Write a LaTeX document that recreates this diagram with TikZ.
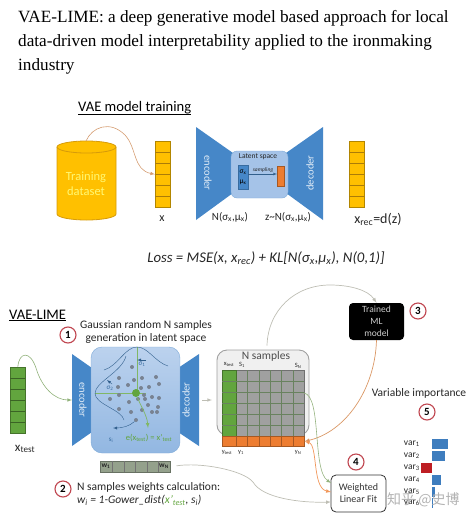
\documentclass[tikz,border=0pt]{standalone}
\usepackage{fontspec}
\setmainfont{Carlito}
\newfontfamily\titlefont{Liberation Serif}
\newfontfamily\cjkfont{Noto Sans CJK SC}
\definecolor{dbyellow}{RGB}{255, 192, 0}
\definecolor{dbedge}{RGB}{214, 155, 10}
\definecolor{netblue}{RGB}{70, 135, 200}
\definecolor{latentblue}{RGB}{165, 195, 232}
\definecolor{sampleorange}{RGB}{237, 125, 49}
\definecolor{testgreen}{RGB}{98, 165, 62}
\definecolor{gridgrey}{RGB}{160, 160, 160}
\definecolor{gridline}{RGB}{105, 130, 95}
\definecolor{dotgrey}{RGB}{120, 130, 145}
\definecolor{ringred}{RGB}{192, 70, 80}
\definecolor{linkgrey}{RGB}{190, 190, 180}
\definecolor{barblue}{RGB}{62, 125, 190}
\definecolor{barred}{RGB}{190, 30, 35}
\tikzset{
  stack/.style={draw=#1!70!black, line width=0.6pt, fill=#1, inner sep=0pt, anchor=north west},
  ring/.style={circle, draw=ringred, line width=1.1pt, fill=white, minimum size=16pt, inner sep=0pt, font=\fontsize{11}{11}\selectfont\bfseries},
  txt/.style={font=\fontsize{11.5}{13}\selectfont, text=black!85, align=center, inner sep=0pt},
  small/.style={font=\fontsize{9}{10}\selectfont, text=black!85, inner sep=0pt},
  link/.style={draw=linkgrey, line width=0.7pt},
  net/.style={font=\fontsize{10.5}{11}\selectfont, text=white!85!netblue, inner sep=0pt},
  sdot/.style={circle, fill=dotgrey, inner sep=0pt, minimum size=4pt},
  bar/.style={inner sep=0pt, anchor=north west}
}

\begin{document}
\begin{tikzpicture}[>=latex, x=1pt, y=-1pt]
    \useasboundingbox (0, 0) rectangle (474, 520);

    % Title
    \node[anchor=west, inner sep=0pt, align=left, font=\fontsize{17.2}{24}\selectfont\titlefont] (title) at (18, 42)
        {VAE-LIME: a deep generative model based approach for local\\
         data-driven model interpretability applied to the ironmaking\\
         industry};

    % VAE model training
    \node[anchor=west, inner sep=0pt, font=\fontsize{14.6}{15}\selectfont] (trainhead) at (78, 108) {VAE model training};
    \draw[line width=0.7pt] (trainhead.south west) -- (trainhead.south east);

    % Training dataset
    \draw[draw=dbedge, line width=0.8pt, fill=dbyellow] (57, 147) -- (57, 214)
        arc[start angle=180, end angle=360, x radius=29.5, y radius=-6] -- (116, 147)
        arc[start angle=0, end angle=180, x radius=29.5, y radius=-6] -- cycle;
    \draw[draw=dbedge, line width=0.8pt] (57, 147) arc[start angle=180, end angle=360, x radius=29.5, y radius=-6];
    \node[font=\fontsize{12.5}{15}\selectfont, text=yellow!55!white, align=center, inner sep=0pt] (db) at (86, 184) {Training\\dataset};
    \coordinate (dbtop) at (86, 141);

    % columns x and x_rec
    \node[stack=dbyellow, minimum width=15pt, minimum height=66pt] (xcol) at (155, 141) {};
    \node[stack=dbyellow, minimum width=15pt, minimum height=66pt] (xrec) at (349, 141) {};
    \foreach \yy in {152, 163, 174, 185, 196} {
        \draw[dbedge!80!black, line width=0.5pt] (155, \yy) -- (170, \yy);
        \draw[dbedge!80!black, line width=0.5pt] (349, \yy) -- (364, \yy);
    }
    \draw[->, draw=sampleorange!50!linkgrey, line width=0.6pt] (dbtop) .. controls (92, 127) and (110, 120) .. (125, 135)
        .. controls (137, 148) and (133, 170) .. (xcol.west);
    \node[small, font=\fontsize{12}{14}\selectfont] (xlabel) at (162, 219) {x};
    \node[small, font=\fontsize{14}{14}\selectfont] (xreclabel) at (378, 219) {x\textsubscript{rec}=d(z)};

    % encoder, latent space, decoder
    \fill[netblue] (196, 127) -- (233, 153) -- (233, 193) -- (196, 220) -- cycle;
    \fill[netblue] (323, 127) -- (286, 153) -- (286, 193) -- (323, 220) -- cycle;
    \node[net, rotate=-90] (enc) at (208, 173) {encoder};
    \node[net, rotate=90] (dec) at (310, 173) {decoder};
    \node[draw=netblue!70, fill=latentblue, rounded corners=6pt, minimum width=57pt, minimum height=47pt, inner sep=0pt] (latent) at (259.5, 174.5) {};
    \node[small, font=\fontsize{7.5}{8}\selectfont] (latentlabel) at (258, 157) {Latent space};
    \node[draw=netblue!80!black, fill=netblue, minimum width=10pt, minimum height=24pt, inner sep=0pt, align=center,
          font=\fontsize{7.5}{10}\selectfont] (sigmamu) at (243, 177) {σ\textsubscript{x}\\μ\textsubscript{x}};
    \node[stack=sampleorange, minimum width=7pt, minimum height=20pt] (zbox) at (277, 166) {};
    \node[small, font=\fontsize{5.5}{6}\selectfont\itshape] (samplinglabel) at (263, 170) {sampling};
    \draw[->, netblue!70!black, line width=0.3pt] (sigmamu.east |- 0, 174) -- (zbox.west |- 0, 174);
    \node[small, font=\fontsize{11}{12}\selectfont] (nlabel) at (230, 217) {N(σ\textsubscript{x},μ\textsubscript{x})};
    \node[small, font=\fontsize{11}{12}\selectfont] (zlabel) at (288, 217) {z\textasciitilde N(σ\textsubscript{x},μ\textsubscript{x})};

    % Loss
    \node[inner sep=0pt, font=\fontsize{14.8}{15}\selectfont\itshape, text=black!85] (loss) at (266, 258)
        {Loss = MSE(x, x\textsubscript{rec}) + KL[N(σ\textsubscript{x},μ\textsubscript{x}), N(0,1)]};

    % VAE-LIME
    \node[anchor=west, inner sep=0pt, font=\fontsize{14.6}{15}\selectfont] (limehead) at (9, 315) {VAE-LIME};
    \draw[line width=0.7pt] (limehead.south west) -- (limehead.south east);
    \node[ring] (one) at (68, 335) {1};
    \node[txt] (gausslabel) at (146, 331.5) {Gaussian random N samples\\generation in latent space};

    % x_test column
    \node[stack=testgreen, minimum width=15pt, minimum height=66pt] (xtest) at (10, 367) {};
    \foreach \yy in {378, 389, 400, 411, 422} {
        \draw[testgreen!60!black, line width=0.5pt] (10, \yy) -- (25, \yy);
    }
    \node[small, font=\fontsize{13}{14}\selectfont] (xtestlabel) at (25, 449) {x\textsubscript{test}};

    % large latent space
    \fill[netblue] (72, 354) -- (92, 368) -- (92, 432) -- (72, 446) -- cycle;
    \fill[netblue] (199, 354) -- (178, 368) -- (178, 432) -- (199, 446) -- cycle;
    \node[draw=netblue!70, top color=latentblue!75!white, bottom color=latentblue!80!netblue, rounded corners=11pt,
          minimum width=89pt, minimum height=106pt, inner sep=0pt] (space) at (135.5, 400) {};
    \node[net, rotate=-90] (enc2) at (83, 400) {encoder};
    \node[net, rotate=90] (dec2) at (186, 400) {decoder};
    \coordinate (xin) at (72, 400);
    \draw[->, draw=testgreen!50!linkgrey, line width=0.6pt] (xtest.north) .. controls (19, 352) and (30, 350) .. (36, 368)
        .. controls (42, 388) and (55, 400) .. (xin);
    \coordinate (decout) at (199, 400);
    \coordinate (gridin) at (212, 400);
    \draw[->, draw=linkgrey, line width=0.6pt, shorten <=3pt] (decout) -- (gridin);

    % gaussians and axes
    \draw[testgreen!80!white, line width=0.9pt] (137, 347) -- (137, 395);
    \draw[testgreen!80!white, line width=0.9pt] (95, 393.5) -- (146, 393.5);
    \draw[netblue!70!black, line width=0.4pt] (104, 370) .. controls (118, 366) and (125, 347) .. (137, 347)
        .. controls (148, 347) and (155, 362) .. (168, 366);
    \draw[netblue!70!black, line width=0.4pt] (126, 356) .. controls (122, 372) and (95, 382) .. (95, 393.5)
        .. controls (95, 404) and (122, 410) .. (124, 420);
    \draw[->, netblue!70!black, line width=0.4pt] (146, 360) -- (137, 360);
    \draw[->, netblue!70!black, line width=0.4pt] (112, 384) -- (107, 380);
    \node[small, text=netblue!80!black, font=\fontsize{7}{8}\selectfont] (sigmaone) at (142, 364) {σ\textsubscript{1}};
    \node[small, text=netblue!80!black, font=\fontsize{7}{8}\selectfont] (sigmatwo) at (110, 388) {σ\textsubscript{2}};

    % samples in latent space
    \foreach \px/\py in {132/367, 119/378, 134/380, 142/378, 156/377, 128/385, 141/388, 118/387,
                         149/387, 159/384, 110/399, 119/395, 129/402, 138/399, 145/399, 144/395,
                         152/397, 159/398, 119/409, 131/412, 142/410, 148/405, 158/407, 152/412, 157/412} {
        \node[sdot] at (\px, \py) {};
    }
    \node[sdot] (lastsample) at (136, 420) {};
    \node[circle, fill=testgreen, inner sep=0pt, minimum size=8pt] (centre) at (136, 393) {};
    \coordinate (ctail) at (148, 428);
    \coordinate (stail) at (113, 428);
    \draw[->, testgreen!80!white, line width=0.7pt] (centre) .. controls (140, 405) and (147, 415) .. (ctail);
    \draw[->, netblue!70!black, line width=0.4pt] (lastsample) .. controls (130, 426) and (122, 428) .. (stail);
    \node[small, text=netblue!80!black, font=\fontsize{7}{8}\selectfont] (silabel) at (111, 440) {s\textsubscript{i}};
    \node[small, text=testgreen, font=\fontsize{8.5}{9}\selectfont] (elabel) at (149, 438) {e(x\textsubscript{test}) = x'\textsubscript{test}};

    % weights bar
    \node[stack=gridgrey!80!testgreen, minimum width=70pt, minimum height=11pt] (weights) at (100, 461) {};
    \foreach \xx in {112, 124, 135, 147, 158} {
        \draw[black!55, line width=0.5pt] (\xx, 461) -- (\xx, 472);
    }
    \node[small, font=\fontsize{7.5}{8}\selectfont\bfseries] (wone) at (106, 466.5) {w\textsubscript{1}};
    \node[small, font=\fontsize{7.5}{8}\selectfont\bfseries] (wlast) at (164, 466.5) {w\textsubscript{N}};
    \node[ring] (two) at (63, 489) {2};
    \node[txt, align=left, anchor=west] (weightlabel) at (77, 494) {N samples weights calculation:\\
        \itshape w\textsubscript{i} = 1-Gower\_dist({\color{testgreen}x'\textsubscript{test}}, s\textsubscript{i})};

    % N samples
    \node[draw=gridgrey, line width=0.9pt, fill=black!6, rounded corners=10pt, minimum width=92pt, minimum height=85pt, inner sep=0pt] (samples) at (263, 392.5) {};
    \node[small, font=\fontsize{11.5}{12}\selectfont, text=black!70] (sampleslabel) at (266, 356) {N samples};
    \node[small, font=\fontsize{6.5}{7}\selectfont] (xtesttop) at (229, 364) {x\textsubscript{test}};
    \node[small, font=\fontsize{6.5}{7}\selectfont] (sonetop) at (242, 365) {S\textsubscript{1}};
    \node[small, font=\fontsize{6.5}{7}\selectfont] (slasttop) at (298, 366) {S\textsubscript{N}};
    \node[stack=gridgrey, minimum width=82pt, minimum height=66pt] (grid) at (222, 370) {};
    \node[stack=testgreen, minimum width=14pt, minimum height=66pt] (gridtest) at (222, 370) {};
    \node[stack=sampleorange, minimum width=82pt, minimum height=10pt] (outrow) at (222, 436) {};
    \foreach \xx in {247.5, 259, 270.5, 281.5, 293} {
        \draw[gridline, line width=0.5pt] (\xx, 370) -- (\xx, 436);
    }
    \foreach \xx in {236, 247.5, 259, 270.5, 281.5, 293} {
        \draw[sampleorange!70!black, line width=0.5pt] (\xx, 436) -- (\xx, 446);
    }
    \foreach \yy in {381, 392, 403, 414, 425} {
        \draw[gridline, line width=0.5pt] (222, \yy) -- (304, \yy);
    }
    \node[small, font=\fontsize{6.5}{7}\selectfont] (ytest) at (227, 452) {y\textsubscript{test}};
    \node[small, font=\fontsize{6.5}{7}\selectfont] (yone) at (241, 452) {y\textsubscript{1}};
    \node[small, font=\fontsize{6.5}{7}\selectfont] (ylast) at (298, 452) {y\textsubscript{N}};

    % Trained ML model
    \node[fill=black, rounded corners=4pt, minimum width=55pt, minimum height=37pt, inner sep=0pt, align=center,
          text=white!80!black, font=\fontsize{9.5}{12}\selectfont] (model) at (376.5, 321.5) {Trained\\ML\\model};
    \node[ring] (three) at (418, 311) {3};
    \draw[->, link] (samples.north) ++(4, -4) .. controls (268, 310) and (295, 285) .. (330, 285)
        .. controls (350, 285) and (368, 290) .. (model.north);
    \draw[->, draw=sampleorange!60!linkgrey, line width=0.7pt] (model.south) .. controls (375, 390) and (345, 432) .. (outrow.east);

    % Weighted Linear Fit
    \node[draw=black!80, line width=0.8pt, fill=white, rounded corners=5pt, minimum width=55pt, minimum height=37pt, inner sep=0pt, align=center,
          font=\fontsize{10}{12}\selectfont, text=black!80] (fit) at (358.5, 493.5) {Weighted\\Linear Fit};
    \node[ring] (four) at (356, 462) {4};
    \coordinate (fitgreen) at (331, 483);
    \coordinate (fitorange) at (331, 492);
    \coordinate (fitgrey) at (331, 502);
    \coordinate (gridright) at (304, 393);
    \draw[->, draw=testgreen!45!linkgrey, line width=0.6pt] (gridright) .. controls (322, 396) and (312, 470) .. (fitgreen);
    \draw[<->, draw=sampleorange!80!white, line width=0.7pt] (outrow.east) .. controls (318, 445) and (312, 488) .. (fitorange);
    \draw[->, link, shorten <=6pt] (weights.east) .. controls (200, 462) and (243, 470) .. (253, 482)
        .. controls (262, 498) and (300, 503) .. (fitgrey);

    % Variable importance
    \node[txt] (importance) at (419, 393) {Variable importance};
    \node[ring] (five) at (427, 412) {5};
    \foreach \yy/\barlen/\nn in {439/16/1, 451/13/2, 475/9/4, 487/3/5, 498/1/6} {
        \node[bar, fill=barblue, minimum width=\barlen pt, minimum height=10pt] at (432, \yy) {};
        \node[small, anchor=east, font=\fontsize{9.5}{10}\selectfont] at (420, \yy+5) {var\textsubscript{\nn}};
    }
    \node[bar, fill=barred, minimum width=11pt, minimum height=10pt] (barthree) at (421, 463) {};
    \node[small, anchor=east, font=\fontsize{9.5}{10}\selectfont] (varthree) at (420, 468) {var\textsubscript{3}};

    % watermark
    \node[inner sep=0pt, anchor=west, text=black!30, font=\fontsize{14}{14}\selectfont\cjkfont] (mark) at (387, 500) {知乎 @史博};
\end{tikzpicture}
\end{document}
